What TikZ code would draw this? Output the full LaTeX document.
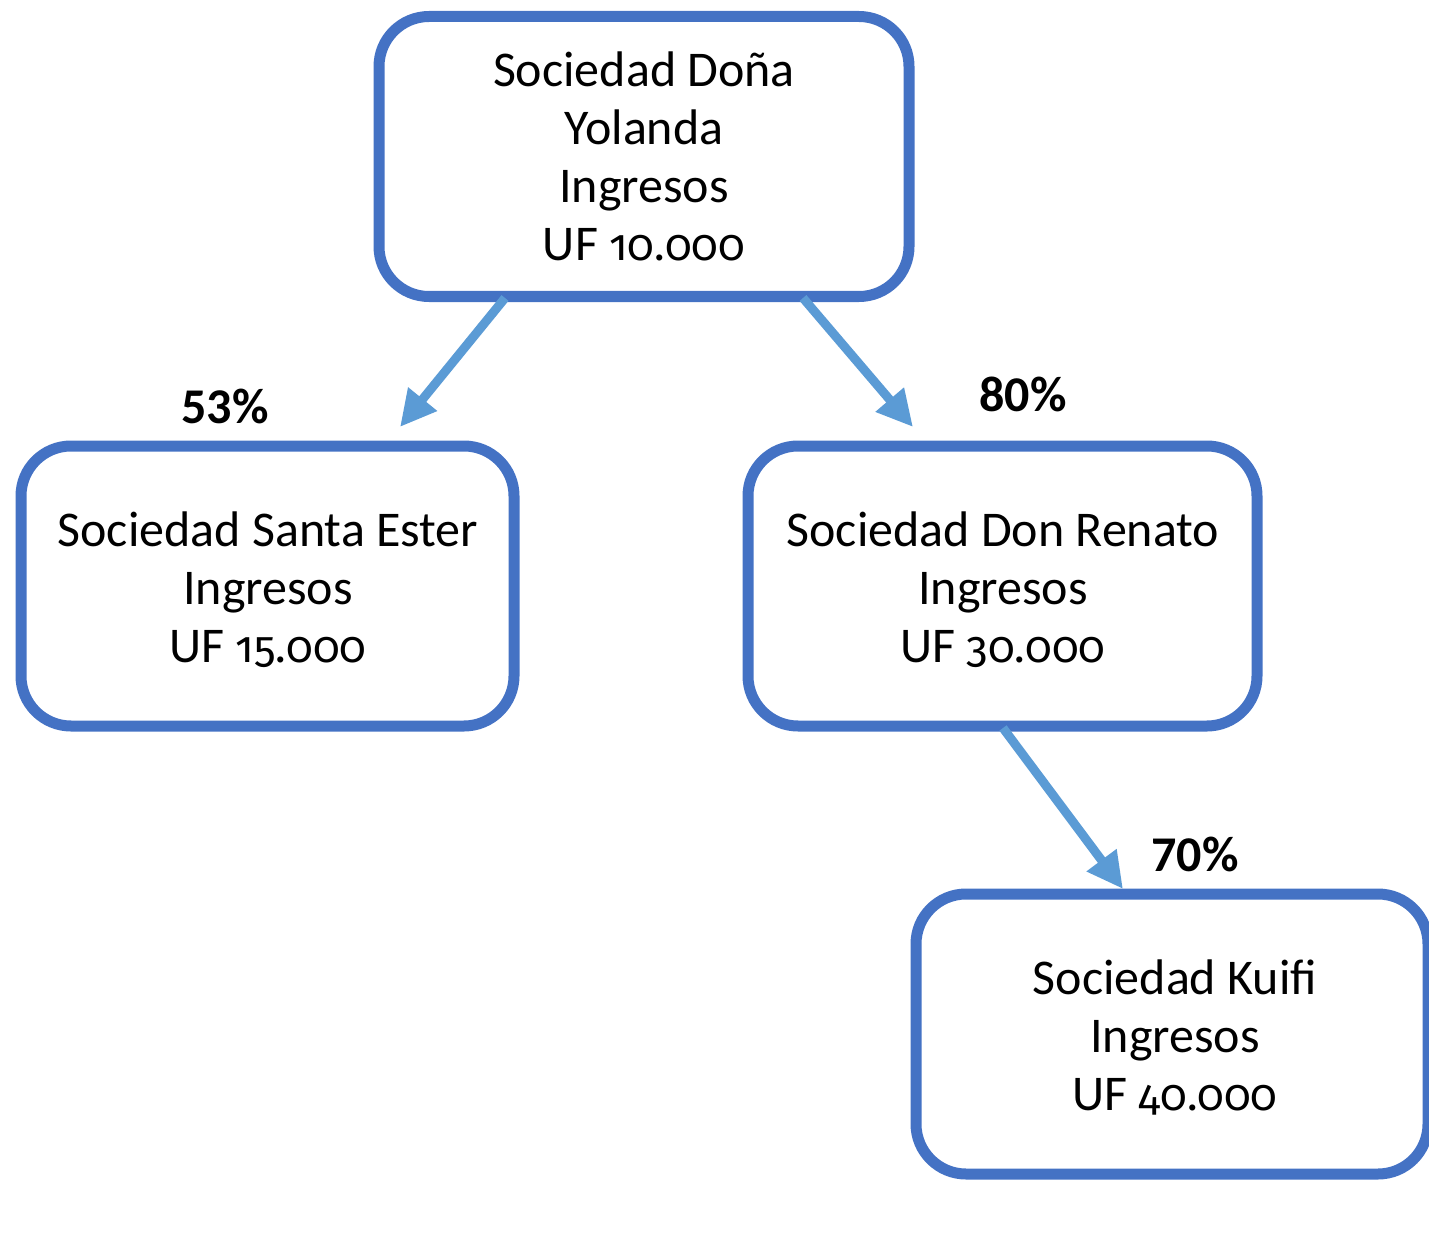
\documentclass[tikz,border=0pt]{standalone}
\usepackage{fontspec}
\setmainfont{Carlito}
\newfontfamily\osfdigits{Fira Sans}[Numbers=OldStyle, Scale=0.88]
\newfontfamily\pctfont{Carlito}[Numbers=Lining]
\usetikzlibrary{arrows.meta}
\definecolor{boxblue}{HTML}{4472C4}
\definecolor{arrowblue}{HTML}{5B9BD5}
\newcommand{\amount}[1]{{\osfdigits #1}}

\begin{document}
\begin{tikzpicture}[x=1pt,y=-1pt,
  entity/.style={draw=boxblue, line width=11pt, rounded corners=50pt,
    minimum width=#1, minimum height=280pt, inner sep=0pt},
  entitytext/.style={align=center, inner sep=0pt,
    font=\fontsize{50}{58}\selectfont},
  share/.style={anchor=base, inner sep=0pt,
    font=\pctfont\bfseries\fontsize{50}{58}\selectfont},
  link/.style={draw=arrowblue, line width=9pt,
    -{Triangle[length=36pt,width=35pt]}}]
\useasboundingbox (0,0) rectangle (1429,1241);

% company boxes
\node[entity=530pt] (yolanda) at (644,156.5) {};
\node[entity=493pt] (ester)   at (267.5,586) {};
\node[entity=509pt] (renato)  at (1002.5,586) {};
\node[entity=512pt] (kuifi)   at (1172,1034) {};

% box captions
\node[entitytext] (tyolanda) at (644,156.5) {Sociedad Doña\\Yolanda\\Ingresos\\UF \amount{10.000}};
\node[entitytext] (tester)   at (268,590) {Sociedad Santa Ester\\Ingresos\\UF \amount{15.000}};
\node[entitytext] (trenato)  at (1003,590) {Sociedad Don Renato\\Ingresos\\UF \amount{30.000}};
\node[entitytext] (tkuifi)   at (1175,1037) {Sociedad Kuifi\\Ingresos\\UF \amount{40.000}};

% ownership arrows
\coordinate (y1) at (505,298);
\coordinate (y2) at (803,298);
\coordinate (r1) at (1003,728);
\coordinate (e1) at (400,427);
\coordinate (r0) at (913,427);
\coordinate (k0) at (1123,889);
\draw[link] (y1) -- (e1);
\draw[link] (y2) -- (r0);
\draw[link] (r1) -- (k0);

% ownership percentages
\node[share] (p53) at (225,423) {53\%};
\node[share] (p80) at (1023,411) {80\%};
\node[share] (p70) at (1195,871) {70\%};
\end{tikzpicture}
\end{document}
